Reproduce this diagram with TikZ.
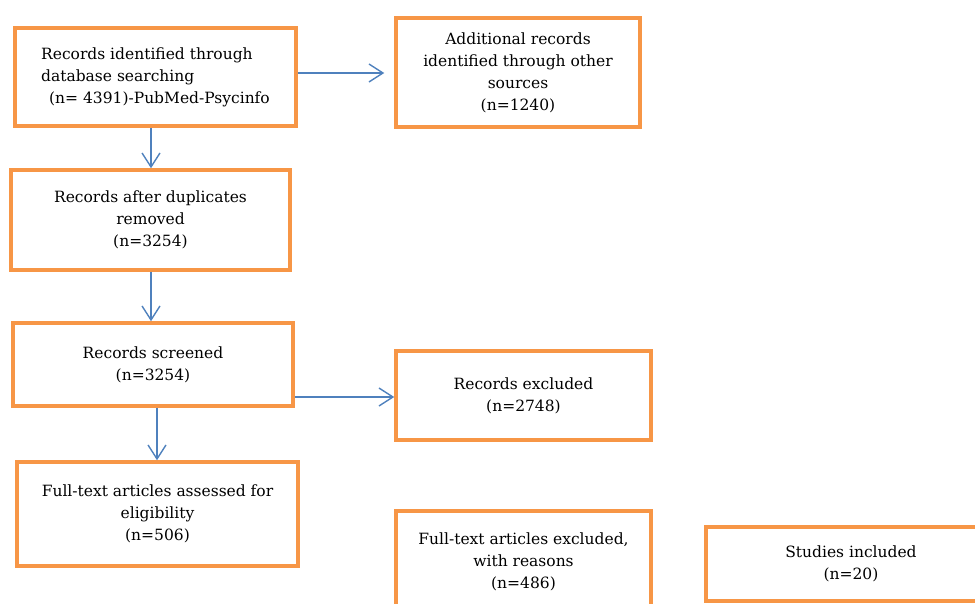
\documentclass[tikz,border=0pt]{standalone}
\usepackage{fontspec}
\setmainfont{DejaVu Serif}
\usetikzlibrary{arrows.meta}
\definecolor{boxorange}{HTML}{F79646}
\definecolor{arrowblue}{HTML}{4F81BD}
\begin{document}
\begin{tikzpicture}[x=1pt,y=-1pt,
  box/.style={draw=boxorange, line width=3.5pt, rectangle, inner sep=0pt, font=\fontsize{15.5}{22}\selectfont, align=center},
  flow/.style={draw=arrowblue, line width=1.4pt, -{Straight Barb[length=14pt,width=18pt,line width=1.4pt]}}]
\useasboundingbox (0,0) rectangle (975,604);
\clip (0,0) rectangle (975,604);
\node[box, minimum width=281pt, minimum height=98pt, align=left] (b1) at (155.5,77) {Records identified through\\database searching\\\hspace{8pt}(n= 4391)-PubMed-Psycinfo};
\node[box, minimum width=244pt, minimum height=109pt] (b2) at (518,72.5) {Additional records\\identified through other\\sources\\(n=1240)};
\node[box, minimum width=279pt, minimum height=100pt] (b3) at (150.5,220) {Records after duplicates\\removed\\(n=3254)};
\node[box, minimum width=280pt, minimum height=83pt] (b4) at (153,364.5) {Records screened\\(n=3254)};
\node[box, minimum width=255pt, minimum height=89pt] (b5) at (523.5,395.5) {Records excluded\\(n=2748)};
\node[box, minimum width=281pt, minimum height=104pt] (b6) at (157.5,514) {Full-text articles assessed for\\eligibility\\(n=506)};
\node[box, minimum width=255pt, minimum height=102pt] (b7) at (523.5,562) {Full-text articles excluded,\\with reasons\\(n=486)};
\node[box, minimum width=290pt, minimum height=74pt] (b8) at (851,564) {Studies included\\(n=20)};
\draw[flow, shorten >=10pt] (b1.east |- 0,73) -- (b2.west |- 0,73);
\draw[flow] (b1.south -| 151,0) -- (b3.north -| 151,0);
\draw[flow] (b3.south -| 151,0) -- (b4.north -| 151,0);
\draw[flow] (b4.east |- 0,397) -- (b5.west |- 0,397);
\draw[flow] (b4.south -| 157,0) -- (b6.north -| 157,0);
\end{tikzpicture}
\end{document}
